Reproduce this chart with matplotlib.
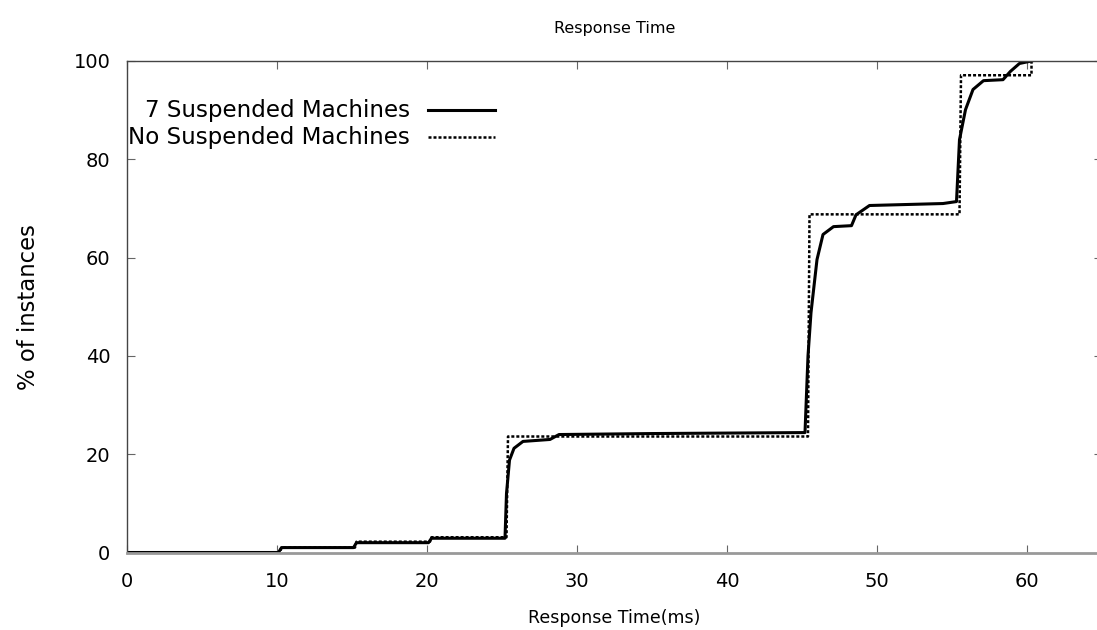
import matplotlib
matplotlib.use("Agg")
import matplotlib.pyplot as plt

plt.rcParams['font.family'] = ['DejaVu Sans']

# 7 suspended machines (solid)
susp_x = [0, 10.1, 10.3, 15.1, 15.3, 20.1, 20.3, 25.2, 25.3, 25.5, 25.8, 26.4, 28.2, 28.8,
          35, 45.2, 45.4, 45.6, 46.0, 46.4, 47.1, 48.3, 48.6, 49.5, 54.4, 55.3, 55.5,
          55.9, 56.4, 57.1, 58.4, 58.9, 59.5, 60.3]
susp_y = [0, 0, 1, 1, 2, 2, 2.9, 2.9, 12, 18.8, 21.2, 22.6, 23.0, 24.0,
          24.2, 24.4, 40, 48.8, 59.6, 64.7, 66.3, 66.5, 68.7, 70.6, 71.0, 71.4, 84,
          90.1, 94.2, 96.0, 96.2, 97.9, 99.5, 100]

# no suspended machines (dashed)
nosusp_x = [0, 10.2, 10.3, 15.2, 15.3, 20.2, 20.3, 25.3, 25.4, 45.4, 45.5, 55.5, 55.6, 60.3, 60.3]
nosusp_y = [0, 0, 1, 1, 2.2, 2.2, 3.1, 3.1, 23.6, 23.6, 68.8, 68.8, 97.1, 97.1, 100]

labels = ['7 Suspended Machines', 'No Suspended Machines']
dash = (0, (1.2, 0.8))

fig = plt.figure(figsize=(10.97, 6.30), dpi=100)
ax = fig.add_axes([127 / 1097, 77.5 / 630, 975 / 1097, 491.5 / 630])

ax.plot(susp_x, susp_y, color='black', lw=2.2)
ax.plot(nosusp_x, nosusp_y, color='black', lw=1.8, linestyle=dash)

ax.set_xlim(0, 65)
ax.set_ylim(0, 100)
ax.set_xticks([0, 10, 20, 30, 40, 50, 60])
ax.set_yticks([0, 20, 40, 60, 80, 100])

for s in ['left', 'top', 'right']:
    ax.spines[s].set_color('#444444')
    ax.spines[s].set_linewidth(1.0)
ax.spines['bottom'].set_color('#999999')
ax.spines['bottom'].set_linewidth(2.0)

ax.tick_params(direction='in', length=6, width=0.8, color='#666666',
               top=True, right=True, labelsize=14, pad=14)
ax.tick_params(axis='y', pad=12)

ax.set_title('Response Time', fontsize=11.5, pad=20)
ax.set_xlabel('Response Time(ms)', fontsize=12.5, labelpad=13)
ax.set_ylabel('% of instances', fontsize=16.4, labelpad=24)

# key drawn by hand: text right-aligned, sample to the right
for i, (lab, ls, lw) in enumerate(zip(labels, ['-', dash], [2.2, 1.8])):
    yk = 0.900 - 0.055 * i
    ax.text(0.290, yk, lab, transform=ax.transAxes, ha='right', va='center', fontsize=16.6)
    ax.plot([0.309, 0.377], [yk, yk], transform=ax.transAxes, color='black', lw=lw,
            linestyle=ls)

fig.savefig('out.png', dpi=100)
